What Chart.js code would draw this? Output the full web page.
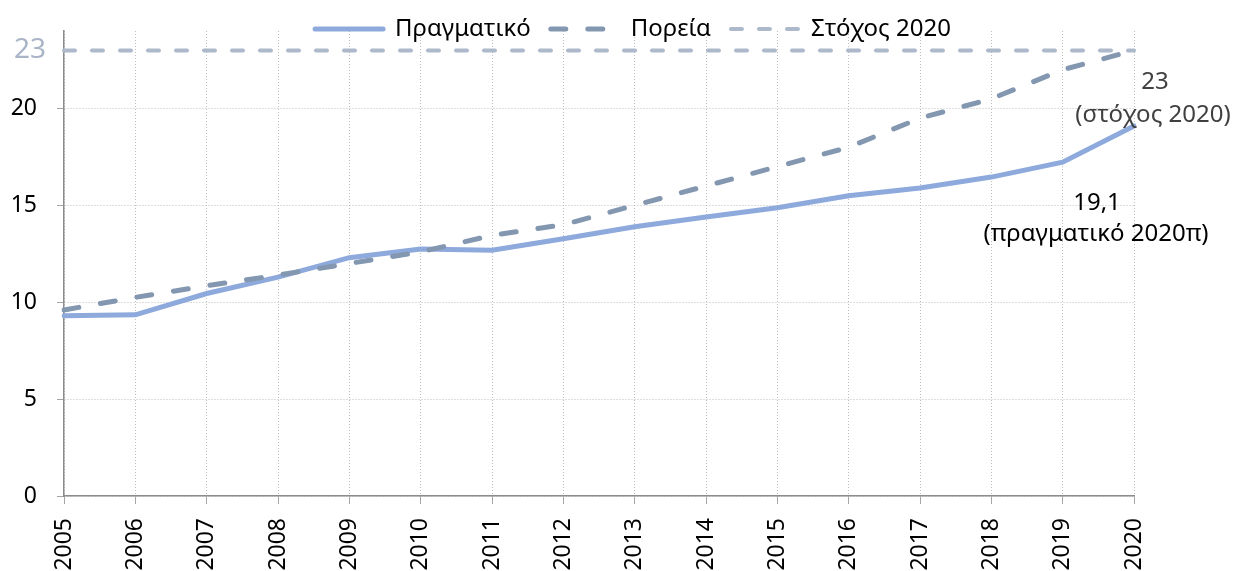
<!DOCTYPE html>
<html>
<head>
<meta charset="utf-8">
<script src="https://cdn.jsdelivr.net/npm/chart.js@4.4.1/dist/chart.umd.min.js"></script>
<style>
  html, body { margin: 0; padding: 0; background: #fff; }
  #wrap { width: 1236px; height: 571px; }
</style>
</head>
<body>
<div id="wrap"><canvas id="graphe" width="1236" height="571"></canvas></div>
<script>
// Data
const years = ["2005","2006","2007","2008","2009","2010","2011","2012","2013","2014","2015","2016","2017","2018","2019","2020"];
const pragmatiko = [9.3, 9.35, 10.45, 11.3, 12.3, 12.75, 12.68, 13.28, 13.9, 14.4, 14.88, 15.5, 15.9, 16.46, 17.23, 19.1];
const poreia = [9.6, 10.25, 10.85, 11.4, 12.0, 12.6, 13.45, 14.0, 15.0, 16.0, 17.0, 18.0, 19.5, 20.5, 22.0, 23.0];
const stoxos = [23, 23, 23, 23, 23, 23, 23, 23, 23, 23, 23, 23, 23, 23, 23, 23];
const yTicks = [0, 5, 10, 15, 20];
const stoxosLabel = "23";

const FONT = "'Noto Sans', sans-serif";

// Legende : hauteur fixe, puis decalee (elle deborde un peu sur le graphe)
const legendPlace = {
    id: "legendPlace",
    afterInit(chart) {
        const lg = chart.legend;
        const fit = lg.fit;
        lg.fit = function() {
            fit.call(this);
            this.height = 31;
        };
    },
    afterLayout(chart) {
        const lg = chart.legend;
        lg.top = -3;
        lg.bottom = 45;
        lg.left += 66;
        lg.right += 66;
    }
};

// Libelle 23 sur l'axe + annotations a droite
const notes = {
    id: "notes",
    afterDraw(chart) {
        const ctx = chart.ctx;
        const x = chart.scales.x.getPixelForValue(years.length - 1);
        const y = chart.scales.y;
        ctx.save();
        ctx.textBaseline = "middle";

        ctx.font = "28px " + FONT;
        ctx.textAlign = "right";
        ctx.fillStyle = "#a9b5c7";
        ctx.fillText(stoxosLabel, chart.chartArea.left - 18, y.getPixelForValue(stoxos[0]));

        ctx.font = "24px " + FONT;
        ctx.textAlign = "center";
        ctx.fillStyle = "#404040";
        ctx.fillText("23", x + 21, y.getPixelForValue(stoxos[15]) + 32);
        ctx.fillText("(στόχος 2020)", x + 19, y.getPixelForValue(stoxos[15]) + 65);
        ctx.fillStyle = "#000";
        ctx.fillText("19,1", x - 37, y.getPixelForValue(pragmatiko[15]) + 77);
        ctx.fillText("(πραγματικό 2020π)", x - 38, y.getPixelForValue(pragmatiko[15]) + 108);
        ctx.restore();
    }
};

new Chart(document.getElementById("graphe"), {
    type: "line",
    data: {
        labels: years,
        datasets: [
            {
                label: "Πραγματικό",
                data: pragmatiko,
                borderColor: "#8eaadc",
                backgroundColor: "transparent",
                borderWidth: 5,
                borderCapStyle: "round",
                pointRadius: 0,
                tension: 0,
                order: 1
            },
            {
                label: "Πορεία",
                data: poreia,
                borderColor: "#8497b0",
                backgroundColor: "transparent",
                borderWidth: 5,
                borderDash: [15, 22],
                borderCapStyle: "round",
                pointRadius: 0,
                tension: 0,
                order: 0
            },
            {
                label: "Στόχος 2020",
                data: stoxos,
                borderColor: "#adb9cb",
                backgroundColor: "transparent",
                borderWidth: 4,
                borderDash: [11, 17],
                borderCapStyle: "round",
                pointRadius: 0,
                tension: 0,
                order: 2
            }
        ]
    },
    options: {
        responsive: false,
        animation: false,
        layout: { padding: { top: 0, right: 102, left: 0, bottom: 0 } },
        plugins: {
            tooltip: { enabled: false },
            legend: {
                position: "top",
                labels: {
                    usePointStyle: true,
                    pointStyle: "line",
                    pointStyleWidth: 68,
                    boxHeight: 24,
                    padding: 20,
                    color: "#000",
                    font: { family: FONT, size: 24 },
                    sort: (a, b) => a.datasetIndex - b.datasetIndex,
                    generateLabels(chart) {
                        const items = Chart.defaults.plugins.legend.labels.generateLabels(chart);
                        items.forEach(it => {
                            const ds = chart.data.datasets[it.datasetIndex];
                            it.lineDash = ds.borderDash || [];
                            it.lineWidth = ds.borderWidth;
                            it.lineCap = "round";
                            it.strokeStyle = ds.borderColor;
                        });
                        return items;
                    }
                }
            }
        },
        scales: {
            x: {
                offset: false,
                grid: {
                    color: "#bfbfbf",
                    tickColor: "#a6a6a6",
                    tickLength: 8
                },
                border: { color: "#8c8c8c", width: 1.5, dash: [1, 2] },
                ticks: {
                    color: "#000",
                    font: { family: FONT, size: 23 },
                    minRotation: 90,
                    maxRotation: 90,
                    autoSkip: false,
                    padding: 14
                },
                afterFit(s) { s.height = 75; }
            },
            y: {
                min: 0,
                max: 24,
                afterBuildTicks(s) { s.ticks = yTicks.map(v => ({ value: v })); },
                grid: {
                    color: "#bfbfbf",
                    tickColor: "#a6a6a6",
                    tickLength: 7
                },
                border: { color: "#8c8c8c", width: 1.5, dash: [1, 2] },
                ticks: {
                    padding: 20,
                    color: "#000",
                    font: { family: FONT, size: 23 }
                },
                afterFit(s) { s.width = 64; s.paddingTop = 0; }
            }
        }
    },
    plugins: [legendPlace, notes]
});
</script>
</body>
</html>
